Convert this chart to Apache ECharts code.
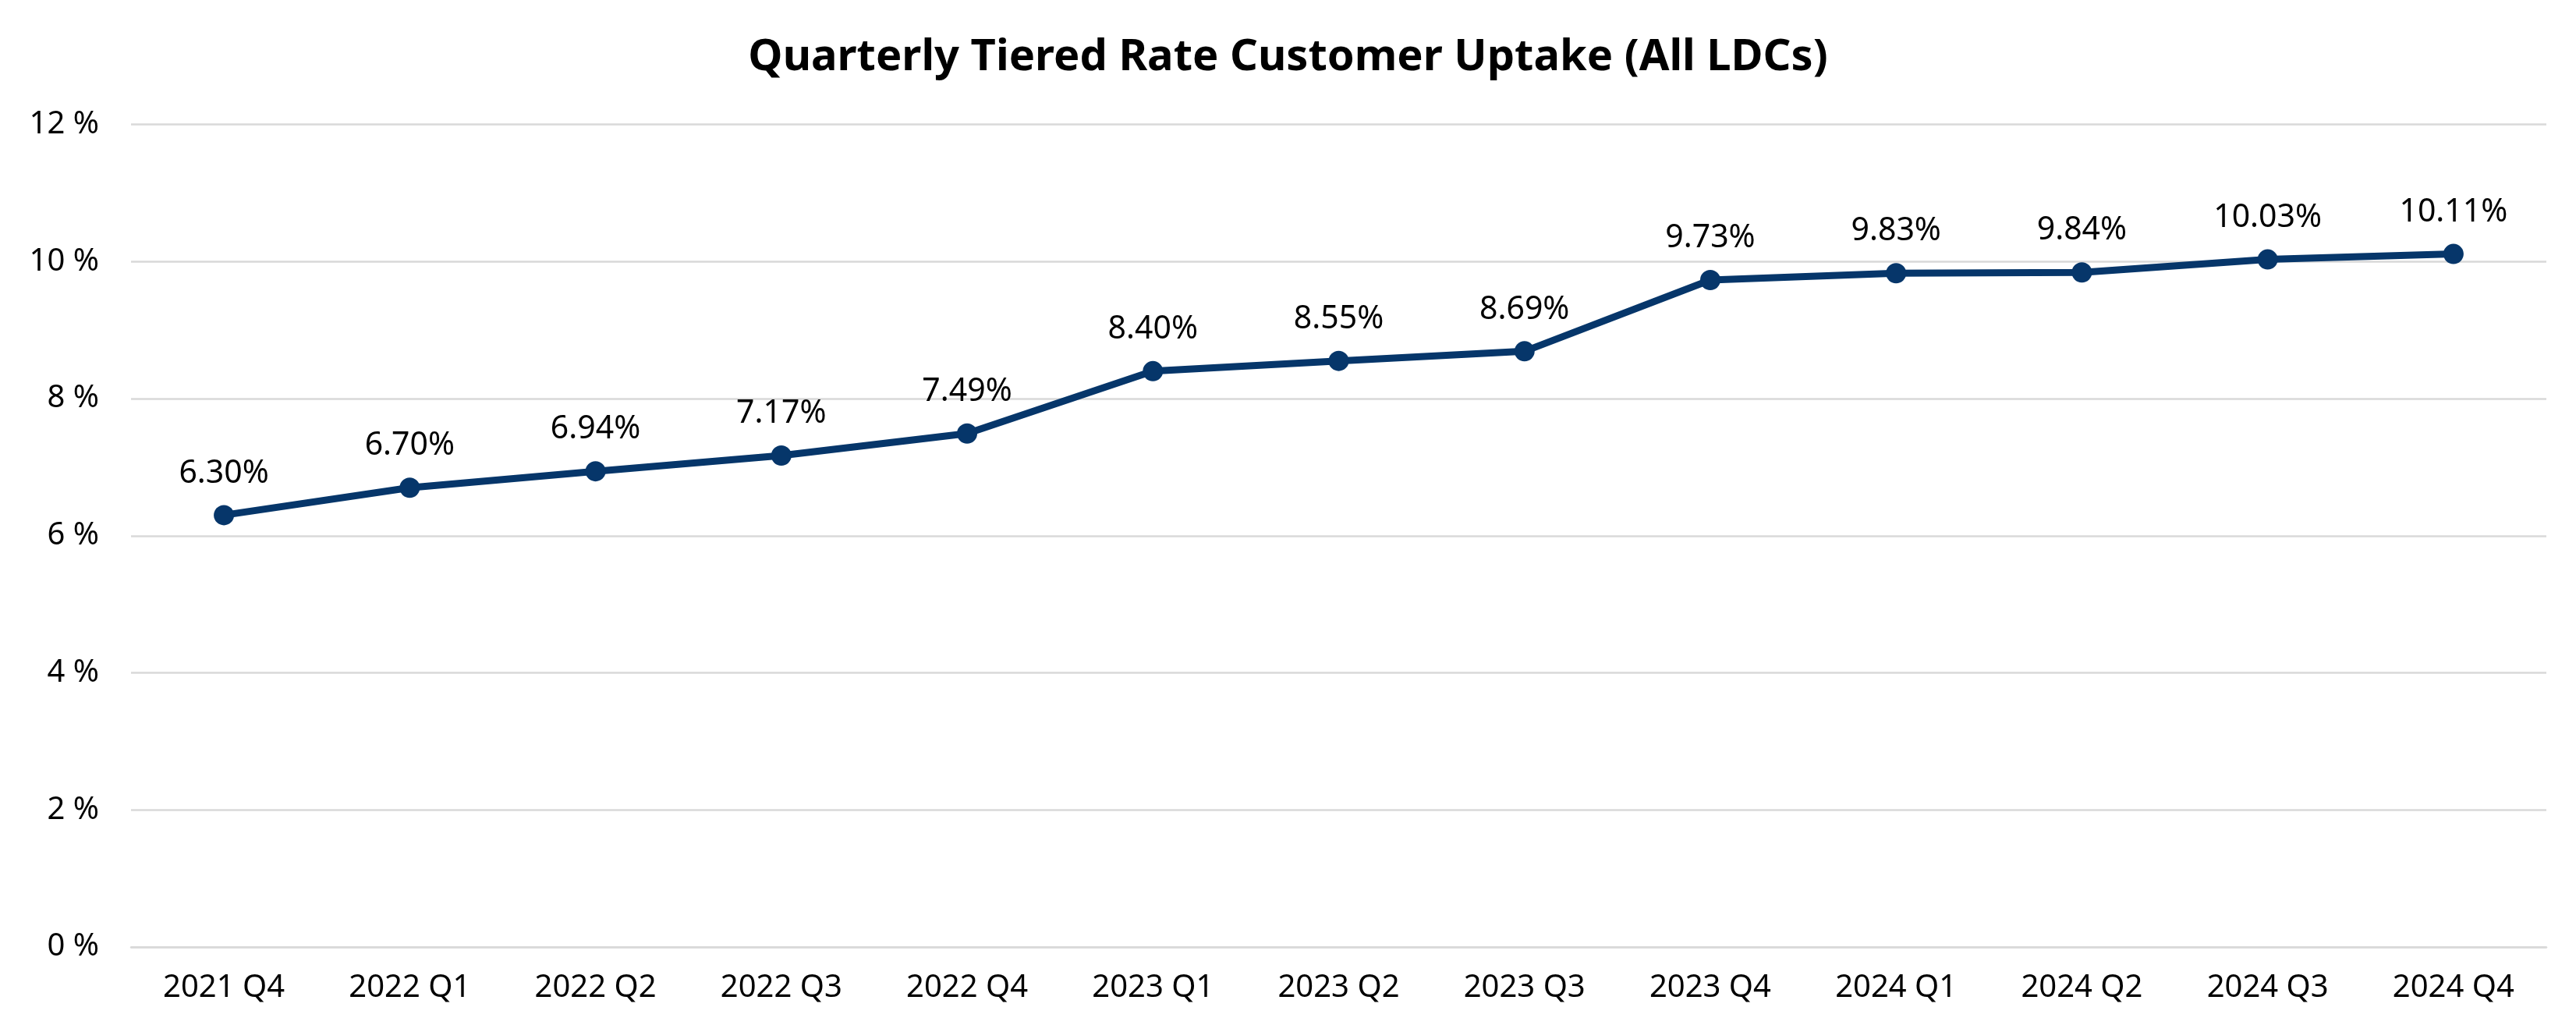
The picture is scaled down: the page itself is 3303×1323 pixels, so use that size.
<!DOCTYPE html>
<html lang="en">
<head>
    <meta charset="UTF-8">
    <title>Quarterly Tiered Rate Customer Uptake</title>
    <script src="https://cdn.jsdelivr.net/npm/echarts@6/dist/echarts.min.js"></script>
    <style>
        * {
            margin: 0;
            padding: 0;
        }
        body {
            background: #fff;
        }
        .container {
            width: 3303px;
            height: 1323px;
        }
    </style>
</head>
<body>
<div class="container"></div>
<script>
    // quarters on the x axis
    const quarters = ['2021 Q4', '2022 Q1', '2022 Q2', '2022 Q3', '2022 Q4',
        '2023 Q1', '2023 Q2', '2023 Q3', '2023 Q4',
        '2024 Q1', '2024 Q2', '2024 Q3', '2024 Q4'];

    // uptake in percent
    const uptake = [6.30, 6.70, 6.94, 7.17, 7.49, 8.40, 8.55, 8.69, 9.73, 9.83, 9.84, 10.03, 10.11];

    const yTicks = {min: 0, max: 12, step: 2};

    const font = '"Noto Sans", "Open Sans", sans-serif';

    let chart = echarts.init(document.querySelector('.container'));

    let options = {
        backgroundColor: '#fff',
        animation: false,
        title: {
            text: 'Quarterly Tiered Rate Customer Uptake (All LDCs)',
            left: 'center',
            top: 41,
            textStyle: {
                fontFamily: font,
                fontWeight: 'bold',
                fontSize: 56,
                color: '#000'
            }
        },
        grid: {
            left: 168,
            right: 38,
            top: 159.5,
            bottom: 109,
            containLabel: false
        },
        xAxis: {
            type: 'category',
            data: quarters,
            boundaryGap: true,
            axisLine: {
                lineStyle: {color: '#d9d9d9', width: 2.5}
            },
            axisTick: {show: false},
            axisLabel: {
                margin: 33,
                fontFamily: font,
                fontSize: 40,
                color: '#000'
            }
        },
        yAxis: {
            type: 'value',
            min: yTicks.min,
            max: yTicks.max,
            interval: yTicks.step,
            axisLine: {show: false},
            axisTick: {show: false},
            splitLine: {
                lineStyle: {color: '#d9d9d9', width: 2.5}
            },
            axisLabel: {
                margin: 41,
                fontFamily: font,
                fontSize: 40,
                color: '#000',
                formatter: '{value} %'
            }
        },
        series: [{
            type: 'line',
            data: uptake,
            symbol: 'circle',
            symbolSize: 26,
            lineStyle: {color: '#06366A', width: 9},
            itemStyle: {color: '#06366A'},
            label: {
                show: true,
                position: 'top',
                distance: 20,
                fontFamily: font,
                fontSize: 41,
                color: '#000',
                formatter: function (p) {
                    return p.value.toFixed(2) + '%';
                }
            }
        }]
    };

    chart.setOption(options);
</script>
</body>
</html>
